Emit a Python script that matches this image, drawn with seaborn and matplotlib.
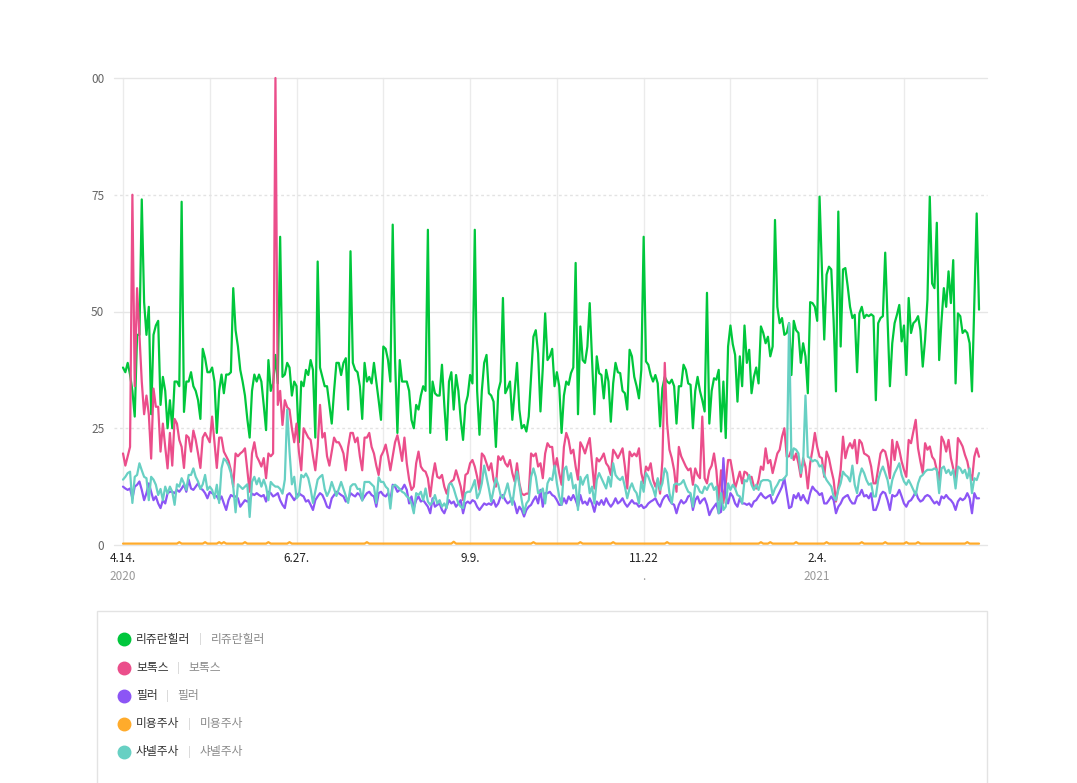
import numpy as np
import pandas as pd
import matplotlib
matplotlib.use("Agg")
import matplotlib.pyplot as plt
import seaborn as sns
from matplotlib.lines import Line2D
from matplotlib.patches import Rectangle

START = "2020-04-14"
SERIES_NAMES = ["리쥬란힐러", "보톡스", "필러", "미용주사", "샤넬주사"]
COLORS = ["#00c73c", "#eb4e8b", "#8c55f5", "#ffab2b", "#67d0c3"]
X_TICK_LABELS = ["4.14.", "6.27.", "9.9.", "11.22", "2.4."]
X_TICK_DAYS = [0, 74, 148, 222, 296]
YEAR_LABELS = ["2020", ".", "2021"]
YEAR_DAYS = [0, 222, 296]
Y_TICKS = [0, 25, 50, 75, 100]
Y_TICK_LABELS = ["0", "25", "50", "75", "00"]

REJURAN = [
    38, 37, 39, 36.5, 33, 27.5, 45, 45, 74, 52,
    45, 51, 28, 45, 47, 48, 30, 36, 33, 25,
    31, 25, 35, 35, 34, 73.5, 28.5, 35, 35, 37,
    34, 33, 31, 27, 42, 40, 37, 37, 38, 35,
    24, 33, 36.5, 32.5, 36.5, 36.5, 37, 55, 46, 42.5,
    37.5, 35, 32, 27, 23, 33, 36.5, 35, 36.5, 35,
    30, 24.6, 39.6, 33, 34.6, 40.7, 34.6, 66, 36, 36.5,
    39, 38, 32, 35, 34, 22, 35, 34, 37.5, 36.4,
    39.6, 37.5, 23, 60.7, 38, 36, 34, 34, 30, 26,
    33, 39, 39, 36.4, 39, 40, 29, 62.9, 39, 37.5,
    37, 34, 27, 39, 35, 36, 34.6, 39, 35, 31,
    26.8, 42.5, 42, 39.6, 35, 68.6, 39.6, 24, 39.6, 35,
    35, 35, 33, 26.8, 25, 30, 29, 32, 34, 33,
    67.5, 24, 35, 32.5, 32, 32, 38.6, 30, 22.5, 35,
    37, 29, 36.4, 33, 26.8, 22.5, 30, 32, 36.4, 34.6,
    67.5, 33, 23.6, 33, 39, 40.7, 32.5, 32, 30.7, 21,
    33, 35, 52.9, 32.5, 33.6, 35, 26.8, 33, 39, 29,
    25, 25.7, 24.3, 27.5, 36, 44.6, 46, 41, 28.6, 38,
    49.6, 39.6, 40.4, 42, 34, 37, 34, 24, 32, 35,
    34.3, 36.8, 38, 60.4, 28, 46.8, 39.6, 39, 42.5, 51.8,
    39.6, 28, 40.4, 36.8, 36.4, 31.4, 37.5, 35, 26.4, 34.6,
    39, 37, 36.8, 33, 32.5, 29, 41.8, 40.4, 36, 34,
    31.4, 37.5, 66, 39.3, 38.6, 36.4, 35, 36.4, 34.6, 25.4,
    33.6, 36, 35, 34.6, 35.4, 34, 26, 34, 34, 38.6,
    37.5, 34.6, 34.3, 25, 33, 36, 33, 31, 28.6, 54,
    26, 33, 35.7, 35.4, 37.5, 24.3, 35, 22.9, 42.5, 47,
    43, 40.7, 30.7, 40.4, 34, 47, 39, 41.8, 32.5, 36,
    38, 34.6, 46.8, 45.4, 43.2, 44.6, 40.4, 42.5, 69.6, 51,
    47.5, 48.6, 45, 45.4, 47.5, 36.4, 48, 46, 45.4, 39,
    43.2, 40.4, 32.5, 52, 51.8, 51, 48, 74.6, 59, 44,
    57.9, 59.6, 59, 48, 32.9, 71.4, 42.5, 59, 59.3, 55.4,
    51, 48.6, 49.3, 37, 49.6, 51, 48.6, 49.3, 49, 49.4,
    49, 31, 47.5, 48.6, 49, 62.6, 48, 34, 43.2, 47.5,
    49.3, 51.4, 43.6, 47, 36.4, 52.9, 45.4, 47.5, 48, 49,
    46, 38.2, 44, 52.5, 74.6, 56, 55, 69, 39.6, 48,
    55, 51, 58.6, 51.8, 61, 34.6, 49.6, 49, 45.4, 46,
    45.4, 43.2, 32.9, 51.8, 71, 50.4,
]

BOTOX = [
    19.6, 17, 19, 21, 75, 34, 55, 45, 35, 28,
    32, 28, 18.5, 33.5, 29.6, 29.6, 20, 26, 21, 16.4,
    24, 17, 27, 26, 22.5, 21, 16.5, 23.5, 23, 20,
    24.5, 22.5, 19.6, 16.5, 23, 24, 23, 22, 27.5, 22,
    16.5, 23, 23, 20, 19, 18, 16, 12.5, 19.6, 19,
    19.6, 20, 20.7, 16, 11.4, 19.6, 22, 19, 18, 16.8,
    18.6, 14.3, 19.6, 19, 19.6, 100, 30, 33, 25.7, 31,
    29.5, 29, 25, 22, 26, 20, 16, 25, 24, 23,
    22.5, 19, 16, 21, 30, 23, 24, 19, 17, 20,
    23, 22, 22, 21, 19.6, 16, 21, 24, 24, 22,
    23, 19, 16, 23, 23, 24, 21, 19.6, 17, 15,
    19, 20, 21.5, 19, 16, 19, 22, 23.5, 21, 18,
    23, 17.5, 14, 11.8, 12.5, 17.5, 20, 16.8, 16, 15.7,
    14.3, 10.4, 14.6, 17.5, 14.6, 14.3, 15, 12.5, 11, 12.9,
    13.6, 14, 16, 14.3, 12.5, 9.6, 15, 15.4, 17.5, 18.2,
    16.8, 14.6, 11.8, 19.6, 19, 17.5, 16, 17.5, 14, 12.5,
    19, 18.2, 19, 17.5, 16.8, 18.2, 15.4, 13.6, 17.5, 13.2,
    11, 10.7, 11, 11, 19.6, 19, 19.6, 16.8, 17.5, 14.3,
    19.6, 21.8, 21, 21, 16, 18.6, 15.4, 12.9, 21, 24,
    22.5, 19.6, 20.4, 16.8, 14, 22, 21, 19.6, 21.4, 22.9,
    17.5, 12.1, 18.6, 17.9, 18.6, 19.6, 17.5, 16.8, 15, 20.4,
    19.6, 18.6, 19.6, 20.7, 16.8, 12.1, 20, 19, 19.6, 19,
    20.7, 15.4, 13.2, 16.8, 16, 17.5, 14, 12.5, 14, 11,
    18.2, 39, 26, 20.4, 18.6, 16, 11.4, 21, 19, 17.9,
    16.8, 16, 16.4, 12.9, 16.4, 15, 14.3, 27.5, 14.3, 13.2,
    16, 17, 19.6, 16, 9.6, 16, 9, 13.2, 18.2, 18.2,
    15.4, 12.1, 13.9, 15.7, 13.2, 15.7, 15.4, 14.3, 14.6, 12.5,
    12.1, 13.9, 16.8, 16.1, 20.7, 17.5, 18.2, 15.4, 17.5, 19.6,
    20.4, 23.2, 25, 18.9, 19, 20.4, 18.2, 19.6, 17.5, 14.6,
    18.6, 16.8, 12.1, 17.5, 20.4, 24, 21, 18.9, 18.6, 14.6,
    20, 18.6, 16.1, 13.9, 9.3, 12.5, 16.1, 23.2, 18.6, 20.7,
    21.8, 20.7, 22.5, 17.5, 22.5, 21.8, 19.6, 19.3, 18.9, 16.8,
    13.2, 13.2, 16.4, 19.6, 20.4, 20, 17.9, 14.3, 22.5, 18.2,
    22.1, 20.4, 17.9, 16.1, 14.6, 22.5, 21.8, 24.3, 26.8, 20.7,
    17.9, 15.4, 21.8, 20.4, 21.1, 18.9, 18.2, 16.1, 13.9, 23.2,
    22.1, 20, 22.5, 18.6, 16.4, 13.6, 22.9, 22.1, 21.1, 19.3,
    17.9, 15.4, 13.9, 18.9, 20.7, 18.9,
]

FILLER = [
    12.5, 12.1, 11.8, 12.1, 10, 12.5, 12.9, 13.6, 11.8, 9.6,
    11.1, 13.2, 11.4, 9.6, 10.4, 8.9, 7.9, 9.6, 8.9, 11.1,
    11.4, 11.4, 11.1, 11.8, 11.4, 12.1, 12.9, 11.4, 14, 12.1,
    11.8, 12.5, 13.2, 12.1, 11.8, 11.1, 10, 11.4, 11.1, 10.7,
    10.4, 9.6, 10.4, 8.9, 7.5, 9.6, 10.7, 10.4, 10.4, 10,
    8.2, 8.9, 9.6, 9.3, 9.6, 11, 10.7, 11.1, 10.7, 10.4,
    10.7, 9.3, 11.4, 11.1, 10.4, 10.7, 11.1, 9.6, 8.6, 7.9,
    10.7, 11.1, 10.4, 9.6, 10.4, 11.1, 10.7, 10.4, 9.3, 9.6,
    8.6, 7.5, 9.6, 10.4, 11.1, 10.7, 9.6, 8.2, 7.9, 10,
    10.7, 11.4, 11.1, 10.7, 10.4, 9.3, 9.6, 11.1, 10.7, 10.4,
    11.1, 10.7, 9.6, 10.4, 11.1, 11.4, 10.7, 10.4, 8.2, 11.1,
    11.4, 10.7, 10.4, 11.1, 9.6, 12.9, 12.5, 11.4, 11.8, 12,
    12.9, 11.8, 8.9, 10.4, 7.9, 9.6, 10.4, 9.3, 9.6, 8.9,
    8.2, 6.8, 10, 8.2, 8.6, 8.9, 7.5, 6.8, 8.2, 9.6,
    8.9, 9.3, 8.2, 8.9, 9.6, 6.8, 8.9, 9.3, 8.9, 9.6,
    9.3, 8.2, 7.5, 8.2, 8.9, 8.6, 8.9, 8.6, 9.6, 8.2,
    8.9, 10.4, 10.7, 9.6, 8.9, 9.3, 10, 8.9, 6.8, 8.2,
    7.5, 6.1, 7.5, 8.2, 8.6, 9.6, 10.4, 8.9, 11.8, 8.2,
    11.1, 11.1, 11.4, 10.7, 10.4, 9.6, 8.6, 8.6, 10, 8.9,
    10.4, 9.6, 10.7, 9.6, 8.2, 10.7, 8.9, 9.3, 8.6, 10,
    8.9, 7.1, 9.3, 8.6, 9.6, 8.6, 10, 8.9, 8.2, 8.9,
    10, 8.9, 9.3, 10, 8.9, 8.2, 8.9, 9.6, 8.9, 8.9,
    8.2, 8.6, 7.9, 8.2, 8.9, 9.3, 9.6, 10, 8.9, 8.2,
    9.6, 10.4, 10.7, 9.6, 8.9, 8.6, 6.8, 8.6, 9.6, 8.9,
    9.3, 10.4, 10.7, 7.5, 9.6, 10.4, 8.9, 9.6, 10, 8.6,
    6.4, 7.5, 8.2, 8.9, 6.8, 7.1, 18.6, 10.4, 8.9, 11.1,
    10.4, 8.9, 8.2, 10, 8.9, 8.9, 8.6, 8.9, 8.2, 9.3,
    9.6, 10.4, 11.1, 10.4, 10, 10.4, 10.7, 8.9, 9.3, 10.4,
    11.4, 12.5, 14.3, 11.1, 7.9, 8.2, 10.7, 10, 11.1, 9.6,
    10.7, 9.6, 8.9, 11.1, 12.5, 11.8, 11.4, 10.7, 11.1, 8.9,
    8.9, 9.6, 10.4, 9.6, 6.8, 8.2, 8.9, 10, 10.4, 10.7,
    9.6, 8.9, 8.9, 10.4, 10.7, 11.8, 10.4, 10.7, 10, 11.1,
    7.5, 7.5, 8.9, 10.7, 11.4, 11.1, 9.6, 7.5, 10.7, 10.4,
    10.7, 11.8, 10.4, 8.9, 8.2, 9.3, 9.6, 10.4, 11.4, 10,
    9.3, 9.6, 10.4, 10.7, 10.4, 9.6, 8.9, 9.3, 8.6, 10.4,
    10, 10.7, 10, 9.6, 8.9, 7.5, 9.3, 10, 9.6, 10,
    11.1, 10, 6.8, 11.1, 10, 10,
]

# 미용주사 values in tenths (one digit per day)
BEAUTY_TENTHS = (
    "3333333333" "3333333333" "3333633333" "3333363333" "3636333333"
    "3363333333" "3363333333" "3633333333" "3333333333" "3333333333"
    "3333633333" "3333333333" "3333333333" "3333333333" "3733333333"
    "3333333333" "3333333333" "3333363333" "3333333333" "3333363333"
    "3333333336" "3333333333" "3333333333" "3363333333" "3333333333"
    "3333333333" "3333333333" "3363336333" "3333333633" "3333333333"
    "6333333333" "3333363333" "3333363333" "3333633336" "3333333333"
    "3333333333" "633333"
)
BEAUTY = [int(c) / 10 for c in BEAUTY_TENTHS]

CHANEL = [
    14, 14.6, 15.4, 15.7, 9, 14.6, 15, 17.5, 16, 14.6,
    14.3, 9.6, 14.6, 14, 12.9, 10.7, 12, 9.6, 12.5, 11,
    12.5, 11.4, 8.6, 13, 12.5, 14.3, 13.2, 11.8, 15, 15,
    16.4, 14.6, 13.6, 12, 13, 15, 11.8, 12.5, 11.8, 10,
    12.9, 9, 16.4, 18.5, 18, 17, 15.4, 12.5, 7, 13,
    12.5, 12, 12.5, 13, 6, 13.5, 14.6, 13, 14.3, 12.5,
    14, 12.5, 9.6, 13.5, 12.9, 12.5, 12.5, 12, 11, 14,
    29, 20, 13, 14.6, 10, 10.6, 15, 14.5, 15.3, 14.3,
    12, 9, 11.5, 14, 14.6, 15, 12, 10.5, 11.6, 13.5,
    12, 10.5, 12, 13.5, 12, 10.5, 9, 12.5, 13, 13,
    12, 12, 9.5, 13.5, 13.5, 13.5, 13, 12.5, 9, 14.5,
    13.5, 13.5, 12.5, 12, 7.8, 12.6, 12.9, 12.5, 12, 11.4,
    11.1, 10.4, 10, 8.9, 6.8, 11.1, 10.7, 11.4, 9.6, 12.1,
    9.3, 8.6, 9.3, 10.7, 8.9, 9.6, 8.2, 8.9, 7.9, 12.9,
    13.2, 12.1, 10.4, 8.9, 8.2, 7.9, 11.1, 11.4, 11.4, 12.5,
    13.9, 10, 11.1, 13.2, 17, 14.6, 12.1, 9.3, 11.8, 14.3,
    12.9, 10.7, 10, 11.4, 13.2, 10.7, 8.6, 12.5, 15.7, 12.9,
    9.6, 6.8, 8.9, 9.6, 14.6, 16.4, 14.6, 11.1, 11.4, 12.1,
    8.9, 13.2, 14.3, 13.9, 17, 13.2, 10.4, 8.6, 16.1, 16.8,
    13.9, 15.4, 12.1, 12.9, 7.5, 14.6, 12.9, 14.3, 15, 11.1,
    12.5, 8.9, 13.9, 15.4, 14.3, 13.2, 12.1, 14.6, 12.5, 17.5,
    15, 14.3, 13.9, 14.6, 12.5, 10, 12.1, 13.2, 11.8, 11.1,
    8.9, 13.6, 11.4, 15.4, 14.6, 13.2, 12.1, 10.4, 14.3, 11.8,
    13.2, 16.4, 15.4, 11.1, 8.9, 12.9, 13.2, 12.9, 13.2, 13.9,
    12.5, 11.4, 11.1, 8.2, 12.9, 12.5, 11.4, 11.1, 12.5, 11.8,
    12.9, 13.2, 11.8, 12.5, 6.8, 11.1, 7.5, 8.2, 13.2, 11.8,
    12.9, 12.1, 10.7, 10.4, 8.9, 13.9, 13.6, 15, 12.9, 11.8,
    12.9, 11.8, 13.6, 13.9, 13.9, 13.9, 13.6, 10.7, 12.1, 12.9,
    13.9, 13.9, 14.3, 15, 47.5, 18.6, 20.7, 20.4, 19.6, 15.4,
    17.5, 32, 18.9, 18.6, 17.9, 18.2, 17.9, 16.8, 17.1, 15,
    13.9, 13.2, 12.5, 10.4, 9.6, 11.8, 13.2, 15.7, 15, 14.6,
    13.6, 17, 12.9, 11.1, 14.6, 16.4, 15.4, 13.9, 12.9, 13.2,
    10.4, 10.4, 13.9, 15.7, 16.8, 15.4, 13.9, 11.1, 13.9, 15.4,
    16.4, 17.5, 15, 13.6, 12.9, 13.9, 12.9, 11.8, 10.7, 13.2,
    14.6, 15, 15.7, 16.1, 16.1, 16.1, 16.4, 16.1, 11.1, 16.4,
    16.8, 15.4, 16.1, 15, 16.1, 12.1, 16.8, 16.4, 15.4, 16.1,
    14.3, 16.4, 11.1, 14.3, 13.9, 15.4,
]

ALL = [REJURAN, BOTOX, FILLER, BEAUTY, CHANEL]
lens = [len(s) for s in ALL]
assert len(set(lens)) == 1, lens
n = lens[0]
dates = pd.date_range(START, periods=n, freq="D")

df = pd.DataFrame({
    "date": np.tile(dates, len(ALL)),
    "value": np.concatenate([np.asarray(s, dtype=float) for s in ALL]),
    "series": np.repeat(SERIES_NAMES, n),
})

sns.set_theme(style="white")
plt.rcParams["font.family"] = ["Noto Sans CJK KR", "DejaVu Sans"]

W, H = 1077, 783
fig = plt.figure(figsize=(W / 100, H / 100), dpi=100)
fig.patch.set_facecolor("white")

def fx(px):
    return px / W

def fy(py):
    return 1 - py / H

ax = fig.add_axes([fx(114), fy(545), (987 - 114) / W, (545 - 78) / H])
ax.set_facecolor("white")

t0 = dates[0]
day = pd.Timedelta(days=1)
ax.set_xlim(t0 - 3.84 * day, t0 + 368.4 * day)
ax.set_ylim(0, 100)

# grid
for d in range(0, n, 37):
    ax.axvline(t0 + d * day, color="#ebebeb", lw=1, zorder=0)
for yv in (0, 50, 100):
    ax.axhline(yv, color="#e6e6e6", lw=1, zorder=0, clip_on=False)
for yv in (25, 75):
    ax.axhline(yv, color="#e3e3e3", lw=1, ls=(0, (2, 2)), zorder=0)

sns.lineplot(data=df, x="date", y="value", hue="series", hue_order=SERIES_NAMES,
             palette=COLORS, linewidth=1.6, legend=False, ax=ax,
             estimator=None, errorbar=None, sort=False)
for ln in ax.get_lines():
    ln.set_clip_on(False)
    ln.set_solid_joinstyle("round")

for s in ax.spines.values():
    s.set_visible(False)

ax.set_yticks(Y_TICKS)
ax.set_yticklabels(Y_TICK_LABELS)
ax.set_xticks([t0 + d * day for d in X_TICK_DAYS])
ax.set_xticklabels(X_TICK_LABELS)
ax.tick_params(axis="y", length=0, pad=7, labelsize=8.5, labelcolor="#666666")
ax.tick_params(axis="x", length=0, pad=5, labelsize=8.5, labelcolor="#222222")
ax.set_xlabel("")
ax.set_ylabel("")

for lab, d in zip(YEAR_LABELS, YEAR_DAYS):
    ax.text(t0 + d * day, -0.067, lab, transform=ax.get_xaxis_transform(),
            ha="center", va="center", fontsize=8.5, color="#999999")

# legend box
fig.add_artist(Rectangle((fx(97.5), fy(800)), (987 - 97.5) / W, (800 - 610.5) / H,
                         transform=fig.transFigure, fill=False,
                         edgecolor="#e3e3e3", lw=1))

renderer = fig.canvas.get_renderer()
rows_y = [639, 668, 696, 724, 752]
for name, col, yy in zip(SERIES_NAMES, COLORS, rows_y):
    fig.add_artist(Line2D([fx(123.5)], [fy(yy)], marker="o", markersize=9,
                          markerfacecolor=col, markeredgecolor=col, lw=0,
                          transform=fig.transFigure))
    t1 = fig.text(fx(136), fy(yy), name, ha="left", va="center",
                  fontsize=8.5, color="#333333")
    bb = t1.get_window_extent(renderer=renderer)
    xend = bb.x1
    fig.text((xend + 10) / W, fy(yy), "|", ha="center", va="center",
             fontsize=8, color="#d0d0d0")
    fig.text((xend + 20) / W, fy(yy), name, ha="left", va="center",
             fontsize=8.5, color="#8a8a8a")

fig.savefig("out.png", dpi=100, facecolor="white")
